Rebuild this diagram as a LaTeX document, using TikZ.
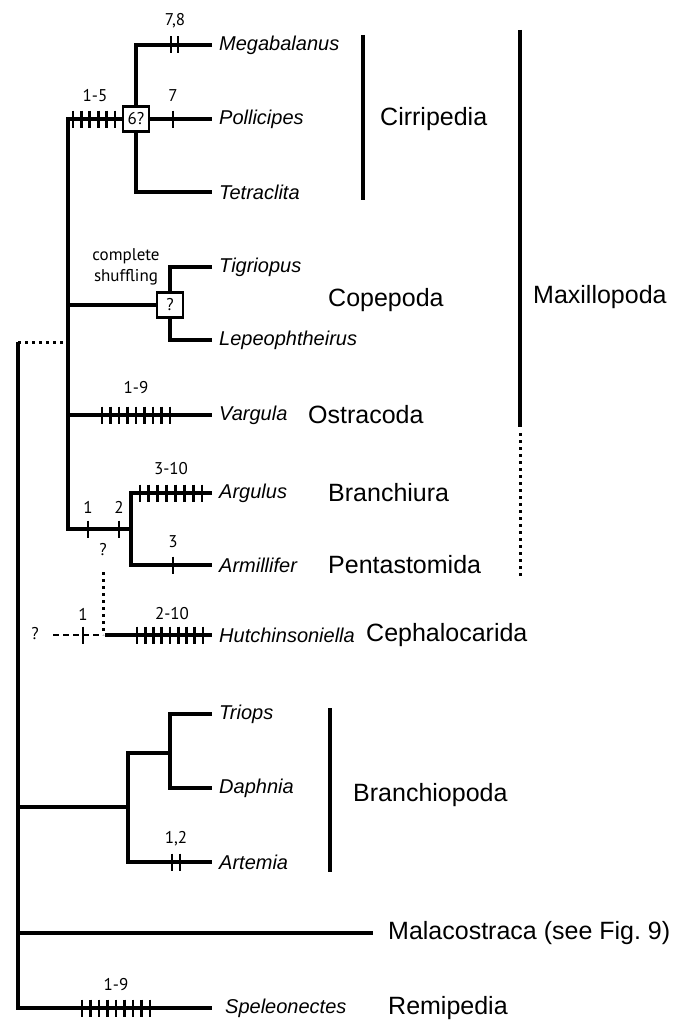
\documentclass[tikz,border=0pt]{standalone}
\usepackage{fontspec}
\setmainfont{Liberation Sans}
\newfontfamily\numfont{PT Sans}
\newcommand\mytickrow[4]{% start, step, count-1, y
  \foreach \i in {0,...,#3} \draw[tk] ({#1+\i*#2},{#4-8.5}) -- ({#1+\i*#2},{#4+8.5});}
\begin{document}
\begin{tikzpicture}[x=1pt,y=-1pt,
  br/.style={line width=3.2pt},
  tk/.style={line width=2.8pt},
  dotl/.style={line width=3pt, dash pattern=on 3pt off 4pt},
  dashl/.style={line width=2.8pt, dash pattern=on 6pt off 4pt},
  bar/.style={line width=3.3pt},
  sp/.style={anchor=west, inner xsep=7pt, inner ysep=0pt, font=\fontsize{20}{22}\selectfont\itshape},
  grp/.style={anchor=west, inner sep=0pt, font=\fontsize{25}{28}\selectfont},
  num/.style={inner sep=0pt, font=\numfont\fontsize{17}{19}\selectfont},
  qbox/.style={draw, line width=2.8pt, fill=white, minimum width=26pt, minimum height=25pt, inner sep=0pt, font=\numfont\fontsize{17}{19}\selectfont}
]
\useasboundingbox (0,0) rectangle (685,1033);

% species labels
\node[sp] (mega) at (212,45) {Megabalanus};
\node[sp] (poll) at (212,119) {Pollicipes};
\node[sp] (tetr) at (212,192) {Tetraclita};
\node[sp] (tigr) at (212,267) {Tigriopus};
\node[sp] (lepe) at (212,340) {Lepeophtheirus};
\node[sp] (varg) at (212,415) {Vargula};
\node[sp] (argu) at (212,493) {Argulus};
\node[sp] (armi) at (212,565) {Armillifer};
\node[sp] (hutc) at (212,635) {Hutchinsoniella};
\node[sp] (trio) at (212,714) {Triops};
\node[sp] (daph) at (212,788) {Daphnia};
\node[sp] (arte) at (212,862) {Artemia};
\node[sp] (spel) at (218,1008) {Speleonectes};

% group labels
\node[grp] (cirr) at (380,119) {Cirripedia};
\node[grp] (cope) at (328,300) {Copepoda};
\node[grp] (maxi) at (533,297) {Maxillopoda};
\node[grp] (ostr) at (308,415) {Ostracoda};
\node[grp] (bran) at (328,493) {Branchiura};
\node[grp] (pent) at (328,565) {Pentastomida};
\node[grp] (ceph) at (366,635) {Cephalocarida};
\node[grp] (brpo) at (353,795) {Branchiopoda};
\node[grp] (mala) at (388,933) {Malacostraca (see Fig.\ 9)};
\node[grp] (remi) at (388,1008) {Remipedia};

% boxes
\node[qbox] (b6) at (136,119) {6?};
\node[qbox] (bq) at (170,305) {?};

% internal coordinates
\coordinate (mxtop) at (68,119);
\coordinate (mxcop) at (68,305);
\coordinate (mxost) at (68,415);
\coordinate (mxbot) at (68,529);
\coordinate (brn) at (131,529);
\coordinate (root) at (18,342);
\coordinate (rbp) at (18,807);
\coordinate (rmal) at (18,933);
\coordinate (rbot) at (18,1008);
\coordinate (bp) at (128,807);
\coordinate (td) at (170,753);
\coordinate (malend) at (373,933);
\coordinate (hq) at (103,572);
\coordinate (hj) at (103,635);
\coordinate (hstart) at (53,635);

% Cirripedia
\draw[br] (mega.west) -| (b6.north);
\draw[br] (b6.south) |- (tetr.west);
\draw[br] (b6.east) -- (poll.west);
\draw[br] (b6.west) -- (mxtop) -- (mxbot) -- (brn);
% Copepoda
\draw[br] (mxcop) -- (bq.west);
\draw[br] (tigr.west) -| (bq.north);
\draw[br] (bq.south) |- (lepe.west);
% Ostracoda
\draw[br] (mxost) -- (varg.west);
% Branchiura / Pentastomida
\draw[br] (argu.west) -| (brn) |- (armi.west);
% Maxillopoda link
\draw[dotl] (root) -- (mxbot |- root);
% Cephalocarida
\draw[dashl] (hstart) -- (hj);
\draw[dotl] (hq) -- (hj);
\draw[br] ([xshift=2pt]hj) -- (hutc.west);
% root
\draw[br] (root) -- (rbot) -- ([xshift=-6pt]spel.west);
\draw[br] (rmal) -- (malend);
\draw[br] (rbp) -- (bp);
\draw[br] (trio.west) -| (td) |- (daph.west);
\draw[br] (td) -| (bp) |- (arte.west);

% bars
\draw[bar] (363,35) -- (363,200);
\draw[bar] (330,708) -- (330,872);
\draw[bar] (520,30) -- (520,427);
\draw[dotl] (520,433) -- (520,578);

% ticks
\mytickrow{73}{8.4}{5}{119}
\mytickrow{171}{7}{1}{45}
\mytickrow{173}{0}{0}{119}
\mytickrow{102}{8.5}{8}{415}
\mytickrow{140}{8.86}{7}{493}
\mytickrow{88}{31}{1}{529}
\mytickrow{173}{0}{0}{565}
\mytickrow{83}{0}{0}{635}
\mytickrow{137}{8.25}{8}{635}
\mytickrow{172}{8}{1}{862}
\mytickrow{82}{8.5}{8}{1008}

% numeric labels
\node[num] (l15) at (95,96) {1-5};
\node[num] (l7) at (173,96) {7};
\node[num] (l78) at (175,21) {7,8};
\node[num] (lcs1) at (126,256) {complete};
\node[num] (lcs2) at (126,277) {shuffling};
\node[num] (l19a) at (136,388) {1-9};
\node[num] (l310) at (171,469) {3-10};
\node[num] (lb1) at (88,507) {1};
\node[num] (lb2) at (119,507) {2};
\node[num] (l3) at (173,542) {3};
\node[num] (lq) at (103,550) {?};
\node[num] (lh1) at (83,614) {1};
\node[num] (l210) at (172,614) {2-10};
\node[num] (lq2) at (35,634) {?};
\node[num] (l12) at (176,839) {1,2};
\node[num] (l19b) at (116,985) {1-9};
\end{tikzpicture}
\end{document}
